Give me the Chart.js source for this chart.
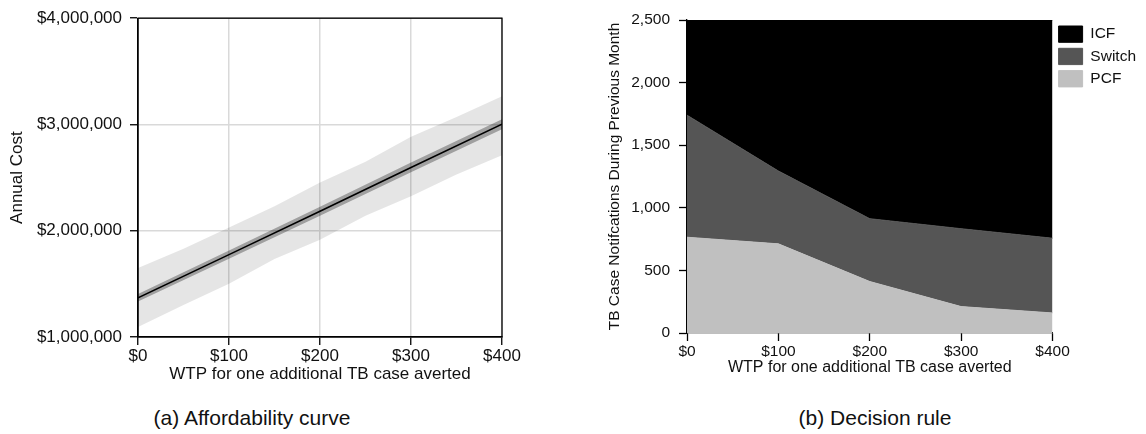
<!DOCTYPE html>
<html><head><meta charset="utf-8">
<script src="https://cdn.jsdelivr.net/npm/chart.js@4.4.1/dist/chart.umd.min.js"></script>
<style>
html,body{margin:0;padding:0;background:#fff;overflow:hidden;width:1146px;height:434px;}
#wrapA{position:absolute;left:0;top:0;width:560px;height:395px;}
#wrapB{position:absolute;left:580px;top:0;width:566px;height:395px;}
.cap{position:absolute;top:407px;font-family:"Liberation Sans",Arial,sans-serif;font-size:21px;line-height:21px;color:#111;white-space:nowrap;transform:translateX(-50%);}
</style></head><body>
<div id="wrapA"><canvas id="a" width="560" height="395"></canvas></div>
<div id="wrapB"><canvas id="b" width="566" height="395"></canvas></div>
<div class="cap" style="left:252px">(a) Affordability curve</div>
<div class="cap" style="left:875px">(b) Decision rule</div>
<script>
const FONT = '"Liberation Sans", Arial, sans-serif';

// tick labels
const wtpTicks = [0, 100, 200, 300, 400];
const costTicks = [1000000, 2000000, 3000000, 4000000];
const notifTicks = [0, 500, 1000, 1500, 2000, 2500];

// (a) affordability curve
const wtp = [0, 100, 200, 300, 400];
const costMean = [1368000, 1775000, 2184000, 2595000, 3003000];
const costInnerUpper = [1405000, 1815000, 2226000, 2642000, 3050000];
const costInnerLower = [1333000, 1737000, 2142000, 2550000, 2955000];
const wtpBand = [0, 50, 100, 150, 200, 250, 300, 350, 400];
const costOuterUpper = [1650000, 1830000, 2030000, 2230000, 2455000, 2650000, 2885000, 3070000, 3265000];
const costOuterLower = [1095000, 1300000, 1500000, 1735000, 1915000, 2140000, 2325000, 2530000, 2710000];

// (b) decision rule (stacked)
const seriesNames = ['PCF', 'Switch', 'ICF'];
const pcf = [765, 712, 411, 211, 160];
const switchVals = [975, 582, 502, 622, 597];
const icf = [760, 1206, 1587, 1667, 1743];

const pts = (xs, ys) => xs.map((x, i) => ({x: x, y: ys[i]}));
const setTicks = arr => scale => { scale.ticks = arr.map(v => ({value: v})); };
const money = v => '$' + Number(v).toLocaleString('en-US');

const frame = {
  id: 'frame',
  afterDatasetsDraw(chart) {
    const {ctx, chartArea: a} = chart;
    ctx.save();
    ctx.strokeStyle = '#000';
    ctx.lineWidth = 1.3;
    ctx.strokeRect(a.left, a.top, a.right - a.left, a.bottom - a.top);
    ctx.restore();
  }
};

const band = (xs, ys, fill, bg) => ({
  data: pts(xs, ys), borderWidth: 0, borderColor: 'transparent',
  backgroundColor: bg || 'transparent', pointRadius: 0, fill: fill
});

new Chart(document.getElementById('a'), {
  type: 'line',
  data: {datasets: [
    {data: pts(wtp, costMean), borderColor: '#000', borderWidth: 1.6, pointRadius: 0, fill: false},
    band(wtp, costInnerUpper, '+1', 'rgba(0,0,0,0.3)'),
    band(wtp, costInnerLower, false),
    band(wtpBand, costOuterUpper, '+1', 'rgba(0,0,0,0.1)'),
    band(wtpBand, costOuterLower, false)
  ]},
  options: {
    responsive: false, animation: false, devicePixelRatio: 1,
    layout: {padding: {top: 16, right: 58, bottom: 0, left: 0}},
    plugins: {legend: {display: false}, tooltip: {enabled: false}},
    scales: {
      x: {
        type: 'linear', min: 0, max: 400,
        afterBuildTicks: setTicks(wtpTicks),
        afterFit(s) { s.height = 58; },
        grid: {color: '#d9d9d9', lineWidth: 1.5, tickColor: '#000', tickLength: 8, tickWidth: 1.3},
        border: {color: '#000', width: 1.3},
        ticks: {font: {family: FONT, size: 17}, color: '#111', padding: 1, maxRotation: 0, callback: v => money(v)},
        title: {display: true, text: 'WTP for one additional TB case averted', font: {family: FONT, size: 17}, color: '#111', padding: {top: 0, bottom: 10}}
      },
      y: {
        type: 'linear', min: 1000000, max: 4000000,
        afterBuildTicks: setTicks(costTicks),
        afterFit(s) { s.width = 138; },
        grid: {color: '#d9d9d9', lineWidth: 1.5, tickColor: '#000', tickLength: 8, tickWidth: 1.3},
        border: {color: '#000', width: 1.3},
        ticks: {font: {family: FONT, size: 17}, color: '#111', padding: 8, callback: v => money(v)},
        title: {display: true, text: 'Annual Cost', font: {family: FONT, size: 17}, color: '#111', padding: {top: 7, bottom: 0}}
      }
    }
  },
  plugins: [frame]
});

const area = (name, vals, color, fill) => ({
  label: name, data: pts(wtp, vals), backgroundColor: color,
  borderColor: color, borderWidth: 1, pointRadius: 0, fill: fill
});

new Chart(document.getElementById('b'), {
  type: 'line',
  data: {datasets: [
    area(seriesNames[0], pcf, '#c0c0c0', 'origin'),
    area(seriesNames[1], switchVals, '#555555', '-1'),
    area(seriesNames[2], icf, '#000000', '-1')
  ]},
  options: {
    responsive: false, animation: false, devicePixelRatio: 1,
    layout: {padding: {top: 20, right: 0, bottom: 0, left: 0}},
    plugins: {
      tooltip: {enabled: false},
      legend: {
        position: 'right', align: 'start', reverse: true, maxWidth: 93.5,
        labels: {boxWidth: 24, boxHeight: 16.3, padding: 6, color: '#111', font: {family: FONT, size: 15.5}}
      }
    },
    scales: {
      x: {
        type: 'linear', min: 0, max: 400,
        afterBuildTicks: setTicks(wtpTicks),
        afterFit(s) { s.height = 62; },
        grid: {drawOnChartArea: false, tickColor: '#000', tickLength: 8, tickWidth: 1.3},
        border: {color: '#000', width: 1.3},
        ticks: {font: {family: FONT, size: 15.5}, color: '#111', padding: 1, maxRotation: 0, callback: v => money(v)},
        title: {display: true, text: 'WTP for one additional TB case averted', font: {family: FONT, size: 16}, color: '#111', padding: {top: 0, bottom: 18}}
      },
      y: {
        type: 'linear', stacked: true, min: 0, max: 2500,
        afterBuildTicks: setTicks(notifTicks),
        afterFit(s) { s.width = 107; },
        grid: {drawOnChartArea: false, tickColor: '#000', tickLength: 8, tickWidth: 1.3},
        border: {color: '#000', width: 1.3},
        ticks: {font: {family: FONT, size: 15.5}, color: '#111', padding: 9, callback: v => Number(v).toLocaleString('en-US')},
        title: {display: true, text: 'TB Case Notifcations During Previous Month', font: {family: FONT, size: 15.5}, color: '#111', padding: {top: 25, bottom: 0}}
      }
    }
  }
});
</script>
</body></html>
